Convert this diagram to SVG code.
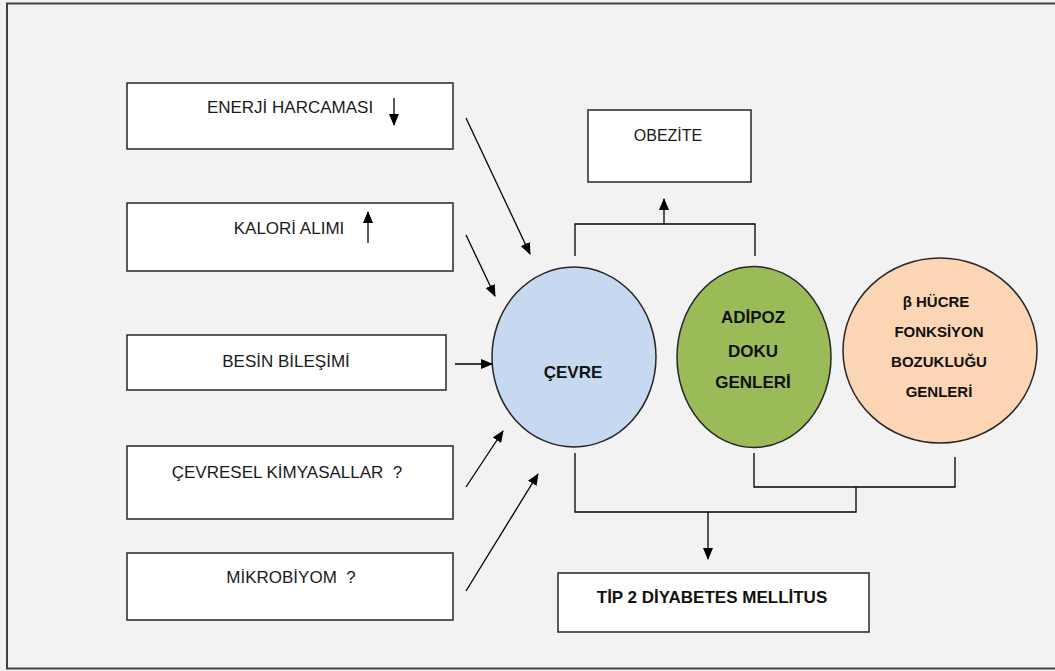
<svg xmlns="http://www.w3.org/2000/svg" width="1055" height="671" viewBox="0 0 1055 671">
<defs>
<marker id="ah" markerUnits="userSpaceOnUse" markerWidth="12" markerHeight="10" refX="11" refY="5" orient="auto">
<path d="M0,0 L12,5 L0,10 Z" fill="#000"/>
</marker>
<style>
.box{fill:#fff;stroke:#262626;stroke-width:1.5}
.t{font-family:"Liberation Sans",Arial,sans-serif;font-size:17px;fill:#1a1a1a;text-anchor:middle}
.b{font-family:"Liberation Sans",Arial,sans-serif;font-weight:bold;fill:#111;text-anchor:middle}
.ln{fill:none;stroke:#000;stroke-width:1.3}
.ar{fill:none;stroke:#000;stroke-width:1.3;marker-end:url(#ah)}
.circ{stroke:#262626;stroke-width:1.5}
</style>
</defs>
<rect x="0" y="0" width="1055" height="671" fill="#f2f2f2"/>
<rect x="7" y="3.5" width="1060" height="665" fill="#f2f2f2" stroke="#404040" stroke-width="2"/>

<g id="enerji">
<rect class="box" x="127" y="83" width="326" height="66"/>
<text class="t" x="290" y="113">ENERJİ HARCAMASI</text>
<line class="ar" x1="394" y1="98" x2="394" y2="125"/>
</g>
<g id="kalori">
<rect class="box" x="127" y="203" width="326" height="68"/>
<text class="t" x="289" y="234">KALORİ ALIMI</text>
<line class="ar" x1="368" y1="243" x2="368" y2="212"/>
</g>
<g id="besin">
<rect class="box" x="127" y="335" width="319" height="55"/>
<text class="t" x="286" y="367">BESİN BİLEŞİMİ</text>
</g>
<g id="kimyasal">
<rect class="box" x="127" y="446" width="326" height="73"/>
<text class="t" x="287" y="478">ÇEVRESEL KİMYASALLAR&#160; ?</text>
</g>
<g id="mikrobiyom">
<rect class="box" x="127" y="553" width="326" height="67"/>
<text class="t" x="291" y="583">MİKROBİYOM&#160; ?</text>
</g>
<g id="obezite">
<rect class="box" x="588" y="110" width="163" height="72"/>
<text class="t" x="668" y="141" style="font-size:16px">OBEZİTE</text>
</g>
<g id="tip2">
<rect class="box" x="558" y="573" width="311" height="59"/>
<text class="b" x="712" y="603" style="font-size:17px">TİP 2 DİYABETES MELLİTUS</text>
</g>
<g id="cevre">
<ellipse class="circ" cx="574" cy="357" rx="82" ry="90" fill="#c6d9f1"/>
<text class="b" x="573" y="378" style="font-size:17px">ÇEVRE</text>
</g>
<g id="adipoz">
<ellipse class="circ" cx="754" cy="357" rx="77" ry="90.5" fill="#9bbb59"/>
<text class="b" x="753" y="323" style="font-size:17px">ADİPOZ</text>
<text class="b" x="753" y="357" style="font-size:17px">DOKU</text>
<text class="b" x="753" y="388" style="font-size:17px">GENLERİ</text>
</g>
<g id="beta">
<ellipse class="circ" cx="940" cy="350.5" rx="97" ry="92.5" fill="#fcd5b5"/>
<text class="b" x="936" y="307" style="font-size:15px">β HÜCRE</text>
<text class="b" x="939" y="337" style="font-size:15px">FONKSİYON</text>
<text class="b" x="939" y="367" style="font-size:15px">BOZUKLUĞU</text>
<text class="b" x="939" y="397" style="font-size:15px">GENLERİ</text>
</g>

<g id="connectors">
<line class="ar" x1="466" y1="118" x2="530" y2="254"/>
<line class="ar" x1="466" y1="235" x2="495" y2="296"/>
<line class="ar" x1="455" y1="364" x2="492" y2="364"/>
<line class="ar" x1="466" y1="487" x2="503" y2="431"/>
<line class="ar" x1="466" y1="591" x2="538" y2="474"/>
<polyline class="ln" points="575,256 575,224 755,224 755,256"/>
<line class="ar" x1="664" y1="224" x2="664" y2="199"/>
<polyline class="ln" points="575,453 575,512 856,512 856,487"/>
<polyline class="ln" points="754,453 754,487 955,487 955,457"/>
<line class="ar" x1="708" y1="512" x2="708" y2="559"/>
</g>
</svg>
